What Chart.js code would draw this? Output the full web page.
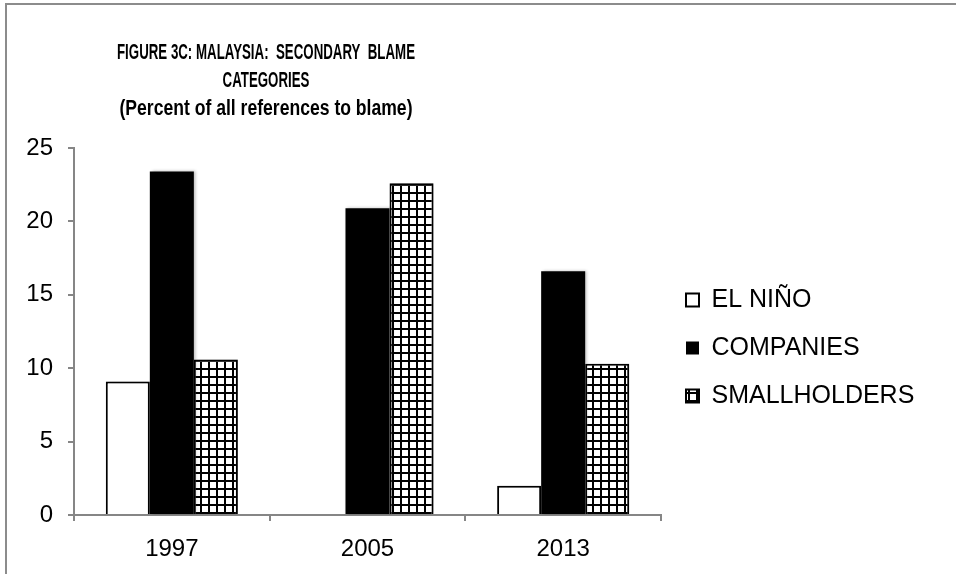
<!DOCTYPE html>
<html>
<head>
<meta charset="utf-8">
<script src="https://cdn.jsdelivr.net/npm/chart.js@4.4.0/dist/chart.umd.min.js"></script>
<style>
html, body { margin: 0; padding: 0; background: #fff; }
#wrap { position: relative; width: 956px; height: 574px; overflow: hidden; }
#frame { position: absolute; left: 5px; top: 3px; width: 1000px; height: 1000px; border: 2px solid #8c8c8c; box-sizing: border-box; }
canvas { position: absolute; left: 0; top: 0; }
</style>
</head>
<body>
<div id="wrap">
  <div id="frame"></div>
  <canvas id="chart" width="956" height="574"></canvas>
</div>
<script>
// data
const years = ['1997', '2005', '2013'];
const elNino = [9.1, 0, 2.0];
const companies = [23.4, 20.9, 16.6];
const smallholders = [10.6, 22.6, 10.3];
const yTicks = [0, 5, 10, 15, 20, 25];
const titleLines = ['FIGURE 3C: MALAYSIA:  SECONDARY  BLAME', 'CATEGORIES', '(Percent of all references to blame)'];

const FONT = '"Liberation Sans", Arial, sans-serif';
const AXIS_GREY = '#868686';

const canvas = document.getElementById('chart');
const ctx = canvas.getContext('2d');

// small square grid used for the SMALLHOLDERS bars
function gridPattern() {
    const c = document.createElement('canvas');
    c.width = 8;
    c.height = 8;
    const g = c.getContext('2d');
    g.fillStyle = '#ffffff';
    g.fillRect(0, 0, 8, 8);
    g.fillStyle = '#000000';
    g.fillRect(0, 0, 8, 2);
    g.fillRect(0, 0, 2, 8);
    return ctx.createPattern(c, 'repeat');
}

// title drawn by hand: narrow bold face, centred left of the plot
const figTitle = {
    id: 'figTitle',
    afterDraw(chart) {
        const c = chart.ctx;
        c.save();
        c.fillStyle = '#000';
        c.font = 'bold 22px ' + FONT;
        c.textAlign = 'center';
        c.textBaseline = 'middle';
        const narrow = 298 / c.measureText(titleLines[0]).width;
        const squeeze = [narrow, narrow, 293 / c.measureText(titleLines[2]).width];
        const ys = [53, 81, 109];
        titleLines.forEach((t, i) => {
            c.save();
            c.translate(266, ys[i]);
            c.scale(squeeze[i], 1);
            c.fillText(t, 0, 0);
            c.restore();
        });
        c.restore();
    }
};

// soft shadow to the right of the bars, like the original
const barShadow = {
    id: 'barShadow',
    beforeDatasetsDraw(chart) {
        const c = chart.ctx;
        c.save();
        c.shadowColor = 'rgba(0,0,0,0.25)';
        c.shadowOffsetX = 2;
        c.shadowBlur = 3;
    },
    afterDatasetsDraw(chart) {
        chart.ctx.restore();
    }
};

// keep the legend column a fixed width and nudge it to where it sits in the figure
const legendBox = {
    id: 'legendBox',
    afterInit(chart) {
        const lg = chart.legend;
        const fit = lg.fit.bind(lg);
        lg.fit = function () {
            fit();
            this.width = 956 - 661;
        };
    },
    afterLayout(chart) {
        const lg = chart.legend;
        lg.left += 2;
        lg.right += 2;
        lg.top -= 13;
        lg.bottom -= 13;
    }
};

const myChart = new Chart(ctx, {
    type: 'bar',
    data: {
        labels: years,
        datasets: [
            {
                label: 'EL NIÑO',
                data: elNino,
                backgroundColor: '#ffffff',
                borderColor: '#000000',
                borderWidth: 2,
                borderSkipped: 'bottom'
            },
            {
                label: 'COMPANIES',
                data: companies,
                backgroundColor: '#000000',
                borderColor: '#000000',
                borderWidth: 0
            },
            {
                label: 'SMALLHOLDERS',
                data: smallholders,
                backgroundColor: gridPattern(),
                borderColor: '#000000',
                borderWidth: 2,
                borderSkipped: 'bottom'
            }
        ]
    },
    options: {
        responsive: false,
        animation: false,
        layout: {
            padding: { top: 148, left: 0, right: 0, bottom: 0 }
        },
        datasets: {
            bar: {
                categoryPercentage: 0.675,
                barPercentage: 1.0
            }
        },
        plugins: {
            title: { display: false },
            tooltip: { enabled: false },
            legend: {
                position: 'right',
                align: 'center',
                labels: {
                    color: '#000',
                    font: { family: FONT, size: 25 },
                    boxWidth: 13,
                    boxHeight: 13,
                    padding: 23
                }
            }
        },
        scales: {
            x: {
                type: 'category',
                grid: {
                    offset: true,
                    drawOnChartArea: false,
                    tickLength: 6,
                    color: AXIS_GREY,
                    lineWidth: 2
                },
                border: { color: AXIS_GREY, width: 2 },
                ticks: {
                    color: '#000',
                    font: { family: FONT, size: 24 },
                    padding: 14,
                    maxRotation: 0
                },
                afterFit(s) { s.height = 574 - 515; }
            },
            y: {
                min: 0,
                max: 25,
                grid: {
                    drawOnChartArea: false,
                    tickLength: 6,
                    color: AXIS_GREY,
                    lineWidth: 2
                },
                border: { color: AXIS_GREY, width: 2 },
                ticks: {
                    color: '#000',
                    font: { family: FONT, size: 24 },
                    padding: 15
                },
                afterBuildTicks(s) { s.ticks = yTicks.map(v => ({ value: v })); },
                afterFit(s) { s.width = 74; }
            }
        }
    },
    plugins: [legendBox, barShadow, figTitle]
});
</script>
</body>
</html>
